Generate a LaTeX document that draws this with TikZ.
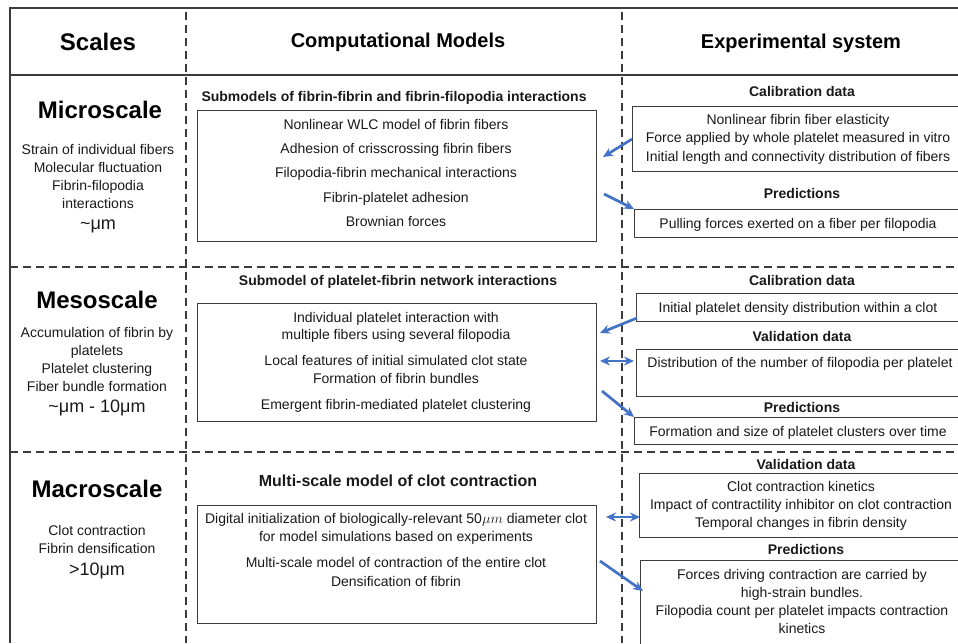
\documentclass[tikz,border=0pt]{standalone}
\usepackage{fontspec}
\setmainfont{Liberation Sans}
\usetikzlibrary{arrows.meta}
\usetikzlibrary{positioning}

\definecolor{arrowblue}{HTML}{4472C4}
\definecolor{linegray}{HTML}{3C3C3C}

\begin{document}
\begin{tikzpicture}[x=1pt,y=-1pt,
  frame/.style={draw=linegray,line width=1.5pt},
  sep/.style={draw=linegray,line width=1.5pt,dash pattern=on 8pt off 5pt},
  cbox/.style={draw=linegray,line width=1.1pt,rectangle,inner sep=0pt,anchor=north west},
  body/.style={font=\fontsize{14}{18}\selectfont,align=center,inner sep=0pt,anchor=north,text=black!90},
  subhead/.style={font=\bfseries\fontsize{14}{16}\selectfont,inner sep=0pt,text=black!90},
  scalehead/.style={font=\bfseries\fontsize{24}{28}\selectfont,inner sep=0pt},
  colhead/.style={font=\bfseries\fontsize{20}{24}\selectfont,inner sep=0pt},
  sizetxt/.style={font=\fontsize{18}{22}\selectfont,inner sep=0pt,text=black!90},
  flow/.style={draw=arrowblue,line width=2.7pt,-{Stealth[length=10pt,width=9pt]}},
  both/.style={draw=arrowblue,line width=2.7pt,{Stealth[length=10pt,width=9pt]}-{Stealth[length=10pt,width=9pt]}}]

\clip (0,0) rectangle (958,643);
\useasboundingbox (0,0) rectangle (958,643);

% table frame
\draw[frame] (10,643) -- (10,8) -- (958,8);
\draw[frame] (10,75) -- (958,75);
\draw[sep] (186,12) -- (186,643);
\draw[sep] (622,12) -- (622,643);
\draw[sep] (10,267) -- (958,267);
\draw[sep] (10,452) -- (958,452);

% headers
\node[scalehead] (hScales) at (98,42) {Scales};
\node[colhead] (hComp) at (398,42) {Computational Models};
\node[colhead] (hExp) at (801,43) {Experimental system};

% scales column
\node[scalehead] (micro) at (100,110) {Microscale};
\node[body] (microTxt) at (98,144) {Strain of individual fibers\\Molecular fluctuation\\Fibrin-filopodia\\interactions};
\node[sizetxt] (microSize) at (98,226) {\textasciitilde μm};

\node[scalehead] (meso) at (97,300) {Mesoscale};
\node[body] (mesoTxt) at (97,327) {Accumulation of fibrin by\\platelets\\Platelet clustering\\Fiber bundle formation};
\node[sizetxt] (mesoSize) at (97,408) {\textasciitilde μm - 10μm};

\node[scalehead] (macro) at (97,489) {Macroscale};
\node[body] (macroTxt) at (97,525) {Clot contraction\\Fibrin densification};
\node[sizetxt] (macroSize) at (97,571) {>10μm};

% computational models column
\node[subhead] (subMicro) at (394,98) {Submodels of fibrin-fibrin and fibrin-filopodia interactions};
\node[cbox,minimum width=399,minimum height=131] (compMicro) at (197,110) {};
\node[body,font=\fontsize{14}{24.3}\selectfont] (compMicroTxt) at (396,119) {Nonlinear WLC model of fibrin fibers\\Adhesion of crisscrossing fibrin fibers\\Filopodia-fibrin mechanical interactions\\Fibrin-platelet adhesion\\Brownian forces};

\node[subhead] (subMeso) at (398,282) {Submodel of platelet-fibrin network interactions};
\node[cbox,minimum width=399,minimum height=118] (compMeso) at (197,303) {};
\node[body,font=\fontsize{14}{17.5}\selectfont] (compMesoTxt) at (396,312) {Individual platelet interaction with\\multiple fibers using several filopodia\\[8.5pt]Local features of initial simulated clot state\\Formation of fibrin bundles\\[8.5pt]Emergent fibrin-mediated platelet clustering};

\node[subhead,font=\bfseries\fontsize{16}{18}\selectfont] (subMacro) at (398,481) {Multi-scale model of clot contraction};
\node[cbox,minimum width=399,minimum height=118] (compMacro) at (197,505) {};
\node[body,font=\fontsize{14}{18.5}\selectfont] (compMacroTxt) at (396,513) {Digital initialization of biologically-relevant 50$\mu m$ diameter clot\\for model simulations based on experiments\\[7.5pt]Multi-scale model of contraction of the entire clot\\Densification of fibrin};

% experimental system column
\node[subhead] (calMicroHd) at (802,91) {Calibration data};
\node[cbox,minimum width=330,minimum height=65] (calMicro) at (632,106) {};
\node[body,font=\fontsize{14}{18.5}\selectfont] (calMicroTxt) at (798,114) {Nonlinear fibrin fiber elasticity\\Force applied by whole platelet measured in vitro\\Initial length and connectivity distribution of fibers};
\node[subhead] (predMicroHd) at (802,193) {Predictions};
\node[cbox,minimum width=328,minimum height=28] (predMicro) at (634,209) {};
\node[body] (predMicroTxt) at (798,218) {Pulling forces exerted on a fiber per filopodia};

\node[subhead] (calMesoHd) at (802,280) {Calibration data};
\node[cbox,minimum width=326,minimum height=28] (calMeso) at (636,293) {};
\node[body] (calMesoTxt) at (798,302) {Initial platelet density distribution within a clot};
\node[subhead] (valMesoHd) at (802,336) {Validation data};
\node[cbox,minimum width=326,minimum height=47] (valMeso) at (636,349) {};
\node[body] (valMesoTxt) at (800,357) {Distribution of the number of filopodia per platelet};
\node[subhead] (predMesoHd) at (802,407) {Predictions};
\node[cbox,minimum width=328,minimum height=27] (predMeso) at (634,417) {};
\node[body] (predMesoTxt) at (798,426) {Formation and size of platelet clusters over time};

\node[subhead] (valMacroHd) at (806,464) {Validation data};
\node[cbox,minimum width=323,minimum height=64] (valMacro) at (639,473) {};
\node[body] (valMacroTxt) at (801,481) {Clot contraction kinetics\\Impact of contractility inhibitor on clot contraction\\Temporal changes in fibrin density};
\node[subhead] (predMacroHd) at (806,549) {Predictions};
\node[cbox,minimum width=322,minimum height=100] (predMacro) at (640,560) {};
\node[body] (predMacroTxt) at (802,569) {Forces driving contraction are carried by\\high-strain bundles.\\Filopodia count per platelet impacts contraction\\kinetics};

% arrows between models and experiments
\coordinate (mA) at (603,157);
\coordinate (mB) at (604,194);
\coordinate (sA) at (637,318);
\coordinate (sB) at (600,333);
\coordinate (sC) at (600,361);
\coordinate (sD) at (634,361);
\coordinate (sE) at (602,391);
\coordinate (xA) at (606,517);
\coordinate (xB) at (640,517);
\coordinate (xC) at (600,561);
\coordinate (xD) at (643,591);

\draw[flow] (calMicro.west) -- (mA);
\draw[flow] (mB) -- (predMicro.north west);
\draw[flow] (sA) -- (sB);
\draw[both] (sC) -- (sD);
\draw[flow] (sE) -- (predMeso.north west);
\draw[both] (xA) -- (xB);
\draw[flow] (xC) -- (xD);

\end{tikzpicture}
\end{document}
